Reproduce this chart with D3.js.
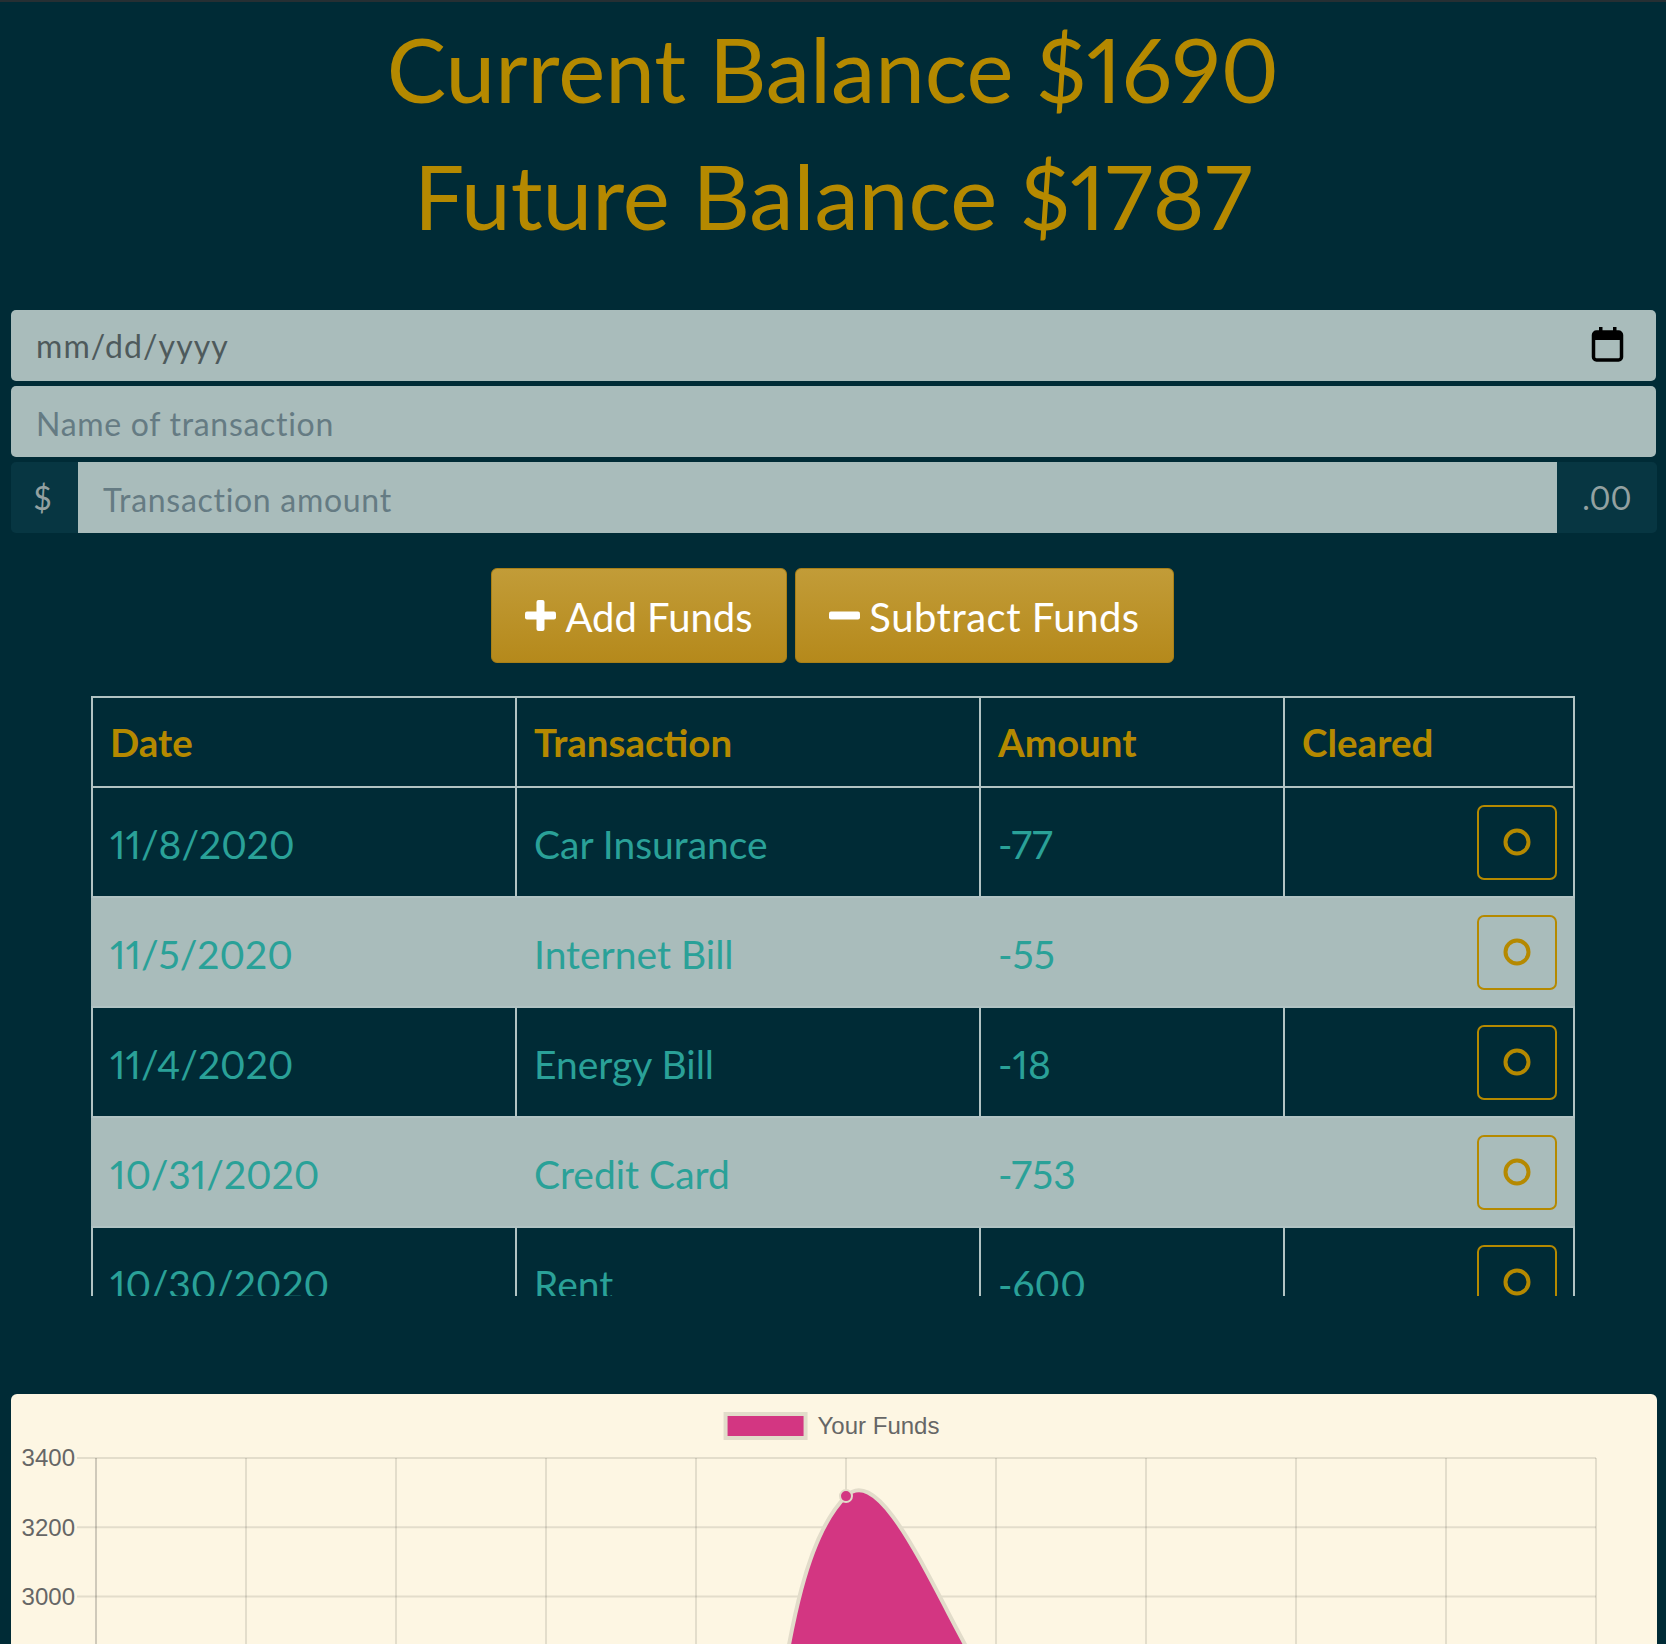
<!DOCTYPE html>
<html>
<head>
<meta charset="utf-8">
<script src="https://cdn.jsdelivr.net/npm/d3@7"></script>
<style>
  html, body { margin:0; padding:0; width:1666px; height:1644px; overflow:hidden;
    background:#002b36; font-family:Lato, "Noto Sans", sans-serif; }
  body { position:relative; font-variant-numeric:proportional-nums; }
  #topline { position:absolute; left:0; top:0; width:1666px; height:2px; background:#262f33; }
  .balance { position:absolute; left:0; width:1666px; text-align:center; color:#b58900;
    font-size:89px; line-height:107px; white-space:nowrap; }
  .field { position:absolute; background:#a9bcbb; border-radius:5px; box-sizing:border-box;
    font-size:32px; letter-spacing:0.7px; display:flex; align-items:center; padding:4px 0 0 25px; color:#657b83; }
  .addon { position:absolute; background:#073642; color:#93a1a1; font-size:32px;
    display:flex; align-items:center; justify-content:center; box-sizing:border-box; }
  .btn { position:absolute; top:568px; height:95px; border-radius:6px; color:#fff;
    background:linear-gradient(#c29c38, #b5891b); border:1px solid #a87f17; box-sizing:border-box;
    display:flex; align-items:center; justify-content:center; font-size:40px; gap:9px; padding-top:3px; }
  .btn svg { margin-top:-3px; }
  #tablewrap { position:absolute; left:90px; top:695px; width:1486px; height:601px; overflow:hidden; }
  table { border-collapse:collapse; table-layout:fixed; margin:1px; }
  td, th { border:2px solid #b1c3c3; padding:0 0 0 17px; text-align:left; vertical-align:middle;
    font-weight:normal; overflow:hidden; white-space:nowrap; }
  th { height:88px; font-size:38.5px; color:#b58900; font-weight:bold; }
  td { height:104px; font-size:39px; color:#2aa198; padding-top:4px; }
  tr.light td { background:#a9bcbb; border-left-color:#a9bcbb; border-right-color:#a9bcbb; }
  tr.dark td { background:#002b36; }
  .clear { float:right; margin-right:16px; margin-top:-4px; width:80px; height:75px; border:2px solid #b58900;
    border-radius:7px; box-sizing:border-box; display:flex; align-items:center; justify-content:center; }
  #card { position:absolute; left:11px; top:1394px; width:1646px; height:900px; background:#fdf6e3;
    border-radius:6px; }
</style>
</head>
<body>
<div id="topline"></div>
<script>
// ---- data ----
const balanceNames = ["Current Balance", "Future Balance"];
const balanceValues = [1690, 1787];

const tableHeaders = ["Date", "Transaction", "Amount", "Cleared"];
const txDates = ["11/8/2020", "11/5/2020", "11/4/2020", "10/31/2020", "10/30/2020"];
const txNames = ["Car Insurance", "Internet Bill", "Energy Bill", "Credit Card", "Rent"];
const txAmounts = [-77, -55, -18, -753, -600];

const fundLabel = "Your Funds";
const fundDates = ["10/1/2020", "10/5/2020", "10/9/2020", "10/15/2020", "10/22/2020", "10/29/2020",
                   "10/30/2020", "10/31/2020", "11/4/2020", "11/5/2020", "11/8/2020"];
const fundValues = [1610, 1545, 2080, 1990, 1840, 3290, 2705, 1937, 1919, 1864, 1787];

const colWidths = [424, 464, 304, 290];

const body = d3.select("body");

// balances
body.selectAll("div.balance")
  .data(balanceNames)
  .join("div")
    .attr("class", "balance")
    .style("top", (d, i) => (15 + i * 127) + "px")
    .text((d, i) => d + " $" + balanceValues[i]);

// form
body.append("div").attr("class", "field")
  .style("left", "11px").style("top", "310px").style("width", "1645px").style("height", "71px")
  .style("color", "#4e5a5c").style("letter-spacing", "1.1px").style("padding-top", "0")
  .text("mm/dd/yyyy");

var cal = body.append("svg")
  .style("position", "absolute").style("left", "1590px").style("top", "326px")
  .attr("width", 36).attr("height", 38);
cal.append("rect").attr("x", 3.5).attr("y", 6).attr("width", 28).attr("height", 28).attr("rx", 3)
  .attr("fill", "none").attr("stroke", "#000").attr("stroke-width", 3.5);
cal.append("rect").attr("x", 3.5).attr("y", 6).attr("width", 28).attr("height", 8).attr("fill", "#000");
cal.append("rect").attr("x", 9).attr("y", 1).attr("width", 3.5).attr("height", 7).attr("fill", "#000");
cal.append("rect").attr("x", 23).attr("y", 1).attr("width", 3.5).attr("height", 7).attr("fill", "#000");

body.append("div").attr("class", "field")
  .style("left", "11px").style("top", "386px").style("width", "1645px").style("height", "71px")
  .text("Name of transaction");

body.append("div").attr("class", "addon")
  .style("left", "11px").style("top", "462px").style("width", "67px").style("height", "71px")
  .style("border-radius", "5px 0 0 5px").style("padding-right", "4px")
  .text("$");
body.append("div").attr("class", "field")
  .style("left", "78px").style("top", "462px").style("width", "1479px").style("height", "71px")
  .style("border-radius", "0")
  .text("Transaction amount");
body.append("div").attr("class", "addon")
  .style("left", "1557px").style("top", "462px").style("width", "100px").style("height", "71px")
  .style("border-radius", "0 5px 5px 0")
  .text(".00");

// buttons
var addBtn = body.append("div").attr("class", "btn").style("left", "491px").style("width", "296px");
var plus = addBtn.append("svg").attr("width", 31).attr("height", 31);
plus.append("rect").attr("x", 11.5).attr("y", 0).attr("width", 8).attr("height", 31).attr("rx", 2).attr("fill", "#fff");
plus.append("rect").attr("x", 0).attr("y", 11.5).attr("width", 31).attr("height", 8).attr("rx", 2).attr("fill", "#fff");
addBtn.append("span").text("Add Funds");

var subBtn = body.append("div").attr("class", "btn").style("left", "795px").style("width", "379px");
subBtn.append("svg").attr("width", 31).attr("height", 31)
  .append("rect").attr("x", 0).attr("y", 11.5).attr("width", 31).attr("height", 8).attr("rx", 2).attr("fill", "#fff");
subBtn.append("span").text("Subtract Funds").style("letter-spacing", "0.5px");

// table
var table = body.append("div").attr("id", "tablewrap").append("table");
table.append("colgroup").selectAll("col").data(colWidths).join("col").style("width", d => d + "px");
table.append("thead").append("tr").attr("class", "dark")
  .selectAll("th").data(tableHeaders).join("th").text(d => d);

var rows = table.append("tbody").selectAll("tr")
  .data(txDates)
  .join("tr")
    .attr("class", (d, i) => i % 2 ? "light" : "dark");
rows.append("td").text(d => d);
rows.append("td").text((d, i) => txNames[i]);
rows.append("td").text((d, i) => txAmounts[i]);
var clr = rows.append("td").append("div").attr("class", "clear")
  .append("svg").attr("width", 30).attr("height", 30);
clr.append("circle").attr("cx", 15).attr("cy", 15).attr("r", 11.5)
  .attr("fill", "none").attr("stroke", "#b58900").attr("stroke-width", 4);

// ---- chart ----
var W = 1646, H = 900;
var area = {left: 85, right: 1585, top: 64};
var svg = body.append("div").attr("id", "card").append("svg")
  .attr("width", W).attr("height", H)
  .style("font-family", "'Helvetica Neue', Helvetica, 'Liberation Sans', Arial, sans-serif");

var yMin = Math.floor(d3.min(fundValues) / 200) * 200;
var yMax = Math.ceil(d3.max(fundValues) / 200) * 200;
area.bottom = area.top + (yMax - yMin) * 0.3465;

var x = d3.scalePoint().domain(fundDates).range([area.left, area.right]);
var y = d3.scaleLinear().domain([yMin, yMax]).range([area.bottom, area.top]);
var yTicks = d3.range(yMin, yMax + 1, 200);

var grid = "rgba(0,0,0,0.1)";
svg.append("g").selectAll("line").data(yTicks).join("line")
  .attr("x1", area.left - 19).attr("x2", area.right)
  .attr("y1", d => y(d)).attr("y2", d => y(d))
  .attr("stroke", grid).attr("stroke-width", 2);
svg.append("g").selectAll("line").data(fundDates).join("line")
  .attr("x1", d => x(d)).attr("x2", d => x(d))
  .attr("y1", area.top).attr("y2", area.bottom + 19)
  .attr("stroke", (d, i) => i === 0 ? "rgba(0,0,0,0.18)" : grid).attr("stroke-width", 2);

svg.append("g").selectAll("text").data(yTicks).join("text")
  .attr("x", area.left - 21).attr("y", d => y(d)).attr("dy", "0.35em")
  .attr("text-anchor", "end").attr("font-size", 24).attr("fill", "#666")
  .text(d => d);
svg.append("g").selectAll("text").data(fundDates).join("text")
  .attr("x", d => x(d)).attr("y", area.bottom + 40)
  .attr("text-anchor", "middle").attr("font-size", 24).attr("fill", "#666")
  .text(d => d);

// Chart.js style spline with control points kept inside the chart area
function spline(pts, t) {
  var n = pts.length;
  var cap = (px, py) => [Math.max(area.left, Math.min(area.right, px)),
                         Math.max(area.top, Math.min(area.bottom, py))];
  var cps = pts.map(function(p, i) {
    var prev = pts[Math.max(i - 1, 0)], next = pts[Math.min(i + 1, n - 1)];
    var d01 = Math.hypot(p[0] - prev[0], p[1] - prev[1]);
    var d12 = Math.hypot(next[0] - p[0], next[1] - p[1]);
    var s01 = d01 / (d01 + d12), s12 = d12 / (d01 + d12);
    if (!isFinite(s01)) s01 = 0;
    if (!isFinite(s12)) s12 = 0;
    var fa = t * s01, fb = t * s12;
    return {
      before: cap(p[0] - fa * (next[0] - prev[0]), p[1] - fa * (next[1] - prev[1])),
      after: cap(p[0] + fb * (next[0] - prev[0]), p[1] + fb * (next[1] - prev[1]))
    };
  });
  return function(path, closeToBase) {
    path.moveTo(pts[0][0], pts[0][1]);
    for (var i = 1; i < n; i++) {
      path.bezierCurveTo(cps[i - 1].after[0], cps[i - 1].after[1],
                         cps[i].before[0], cps[i].before[1], pts[i][0], pts[i][1]);
    }
    if (closeToBase) {
      path.lineTo(pts[n - 1][0], area.bottom);
      path.lineTo(pts[0][0], area.bottom);
      path.closePath();
    }
    return path;
  };
}

var pts = fundDates.map((d, i) => [x(d), y(fundValues[i])]);
var draw = spline(pts, 0.4);

svg.append("path").attr("d", draw(d3.path(), true).toString())
  .attr("fill", "#d33682");
svg.append("path").attr("d", draw(d3.path(), false).toString())
  .attr("fill", "none").attr("stroke", "#e2dcca").attr("stroke-width", 4);
svg.append("g").selectAll("circle").data(pts).join("circle")
  .attr("cx", d => d[0]).attr("cy", d => d[1]).attr("r", 6)
  .attr("fill", "#d33682").attr("stroke", "#e2dcca").attr("stroke-width", 2);

// legend
var legend = svg.append("g");
var lt = legend.append("text").attr("y", 32).attr("dy", "0.35em")
  .attr("font-size", 24).attr("fill", "#666").text(fundLabel);
var tw = lt.node().getComputedTextLength();
var lx = W / 2 - 1.5 - (80 + 12 + tw) / 2;
legend.append("rect").attr("x", lx).attr("y", 20).attr("width", 80).attr("height", 24)
  .attr("fill", "#d33682").attr("stroke", "#e2dcca").attr("stroke-width", 4);
lt.attr("x", lx + 92);
</script>
</body>
</html>
